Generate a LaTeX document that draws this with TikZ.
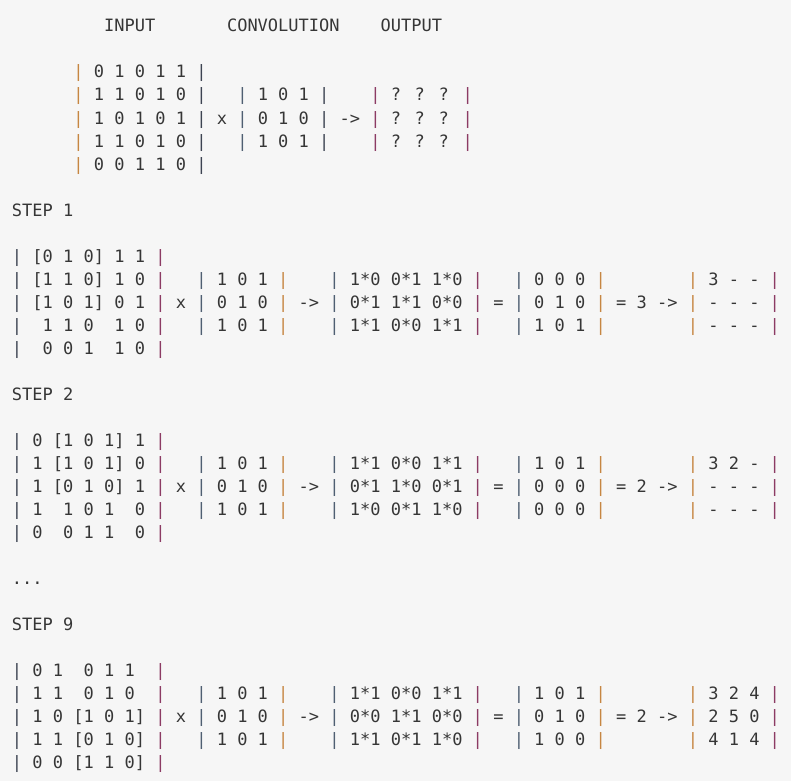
\documentclass[tikz,border=0pt]{standalone}
\usepackage{fontspec}
\newfontfamily\monofam{DejaVu Sans Mono}
\definecolor{bgc}{HTML}{F6F6F6}
\definecolor{txtc}{HTML}{363636}
\definecolor{pdc}{HTML}{3D4452}
\definecolor{pbc}{HTML}{4F5F72}
\definecolor{poc}{HTML}{C68642}
\definecolor{ppc}{HTML}{8C3B64}
\newcommand\pipD{\textcolor{pdc}{|}}
\newcommand\pipB{\textcolor{pbc}{|}}
\newcommand\pipO{\textcolor{poc}{|}}
\newcommand\pipP{\textcolor{ppc}{|}}
\tikzset{txt/.style={anchor=base west, inner sep=0pt, outer sep=0pt,
  font=\monofam\fontsize{17}{20}\selectfont, text=txtc}}
\newcommand\T[3]{\node[txt] (n#2c#1) at ({12+#1*10.24},{32+#2*23}) {#3};}
\begin{document}
\begin{tikzpicture}[x=1pt,y=-1pt]
\fill[bgc] (0,0) rectangle (791,781);
\useasboundingbox (0,0) rectangle (791,781);
% header
\T{9}{0}{INPUT}
\T{21}{0}{CONVOLUTION}
\T{36}{0}{OUTPUT}
% initial
\T{6}{2}{\pipO{} 0 1 0 1 1 \pipD{}}
\T{6}{3}{\pipO{} 1 1 0 1 0 \pipD{}}
\T{22}{3}{\pipB{} 1 0 1 \pipD{}}
\T{35}{3}{\pipP{} ? ? ? \pipP{}}
\T{6}{4}{\pipO{} 1 0 1 0 1 \pipD{}}
\T{20}{4}{x}
\T{22}{4}{\pipB{} 0 1 0 \pipD{}}
\T{32}{4}{->}
\T{35}{4}{\pipP{} ? ? ? \pipP{}}
\T{6}{5}{\pipO{} 1 1 0 1 0 \pipD{}}
\T{22}{5}{\pipB{} 1 0 1 \pipD{}}
\T{35}{5}{\pipP{} ? ? ? \pipP{}}
\T{6}{6}{\pipO{} 0 0 1 1 0 \pipD{}}
% step 1
\T{0}{8}{STEP 1}
\T{0}{10}{\pipD{} [0 1 0] 1 1 \pipP{}}
\T{0}{11}{\pipD{} [1 1 0] 1 0 \pipP{}}
\T{0}{12}{\pipD{} [1 0 1] 0 1 \pipP{}}
\T{0}{13}{\pipD{}~ 1 1 0~ 1 0 \pipP{}}
\T{0}{14}{\pipD{}~ 0 0 1~ 1 0 \pipP{}}
\T{18}{11}{\pipB{} 1 0 1 \pipO{}}
\T{18}{12}{\pipB{} 0 1 0 \pipO{}}
\T{18}{13}{\pipB{} 1 0 1 \pipO{}}
\T{16}{12}{x}
\T{28}{12}{->}
\T{31}{11}{\pipB{} 1*0 0*1 1*0 \pipP{}}
\T{31}{12}{\pipB{} 0*1 1*1 0*0 \pipP{}}
\T{31}{13}{\pipB{} 1*1 0*0 1*1 \pipP{}}
\T{47}{12}{=}
\T{49}{11}{\pipB{} 0 0 0 \pipO{}}
\T{49}{12}{\pipB{} 0 1 0 \pipO{}}
\T{49}{13}{\pipB{} 1 0 1 \pipO{}}
\T{59}{12}{= 3 ->}
\T{66}{11}{\pipO{} 3 - - \pipP{}}
\T{66}{12}{\pipO{} - - - \pipP{}}
\T{66}{13}{\pipO{} - - - \pipP{}}
% step 2
\T{0}{16}{STEP 2}
\T{0}{18}{\pipD{} 0 [1 0 1] 1 \pipP{}}
\T{0}{19}{\pipD{} 1 [1 0 1] 0 \pipP{}}
\T{0}{20}{\pipD{} 1 [0 1 0] 1 \pipP{}}
\T{0}{21}{\pipD{} 1~ 1 0 1~ 0 \pipP{}}
\T{0}{22}{\pipD{} 0~ 0 1 1~ 0 \pipP{}}
\T{18}{19}{\pipB{} 1 0 1 \pipO{}}
\T{18}{20}{\pipB{} 0 1 0 \pipO{}}
\T{18}{21}{\pipB{} 1 0 1 \pipO{}}
\T{16}{20}{x}
\T{28}{20}{->}
\T{31}{19}{\pipB{} 1*1 0*0 1*1 \pipP{}}
\T{31}{20}{\pipB{} 0*1 1*0 0*1 \pipP{}}
\T{31}{21}{\pipB{} 1*0 0*1 1*0 \pipP{}}
\T{47}{20}{=}
\T{49}{19}{\pipB{} 1 0 1 \pipO{}}
\T{49}{20}{\pipB{} 0 0 0 \pipO{}}
\T{49}{21}{\pipB{} 0 0 0 \pipO{}}
\T{59}{20}{= 2 ->}
\T{66}{19}{\pipO{} 3 2 - \pipP{}}
\T{66}{20}{\pipO{} - - - \pipP{}}
\T{66}{21}{\pipO{} - - - \pipP{}}
% dots
\T{0}{24}{...}
% step 9
\T{0}{26}{STEP 9}
\T{0}{28}{\pipD{} 0 1~ 0 1 1~ \pipP{}}
\T{0}{29}{\pipD{} 1 1~ 0 1 0~ \pipP{}}
\T{0}{30}{\pipD{} 1 0 [1 0 1] \pipP{}}
\T{0}{31}{\pipD{} 1 1 [0 1 0] \pipP{}}
\T{0}{32}{\pipD{} 0 0 [1 1 0] \pipP{}}
\T{18}{29}{\pipB{} 1 0 1 \pipO{}}
\T{18}{30}{\pipB{} 0 1 0 \pipO{}}
\T{18}{31}{\pipB{} 1 0 1 \pipO{}}
\T{16}{30}{x}
\T{28}{30}{->}
\T{31}{29}{\pipB{} 1*1 0*0 1*1 \pipP{}}
\T{31}{30}{\pipB{} 0*0 1*1 0*0 \pipP{}}
\T{31}{31}{\pipB{} 1*1 0*1 1*0 \pipP{}}
\T{47}{30}{=}
\T{49}{29}{\pipB{} 1 0 1 \pipO{}}
\T{49}{30}{\pipB{} 0 1 0 \pipO{}}
\T{49}{31}{\pipB{} 1 0 0 \pipO{}}
\T{59}{30}{= 2 ->}
\T{66}{29}{\pipO{} 3 2 4 \pipP{}}
\T{66}{30}{\pipO{} 2 5 0 \pipP{}}
\T{66}{31}{\pipO{} 4 1 4 \pipP{}}
\end{tikzpicture}
\end{document}
